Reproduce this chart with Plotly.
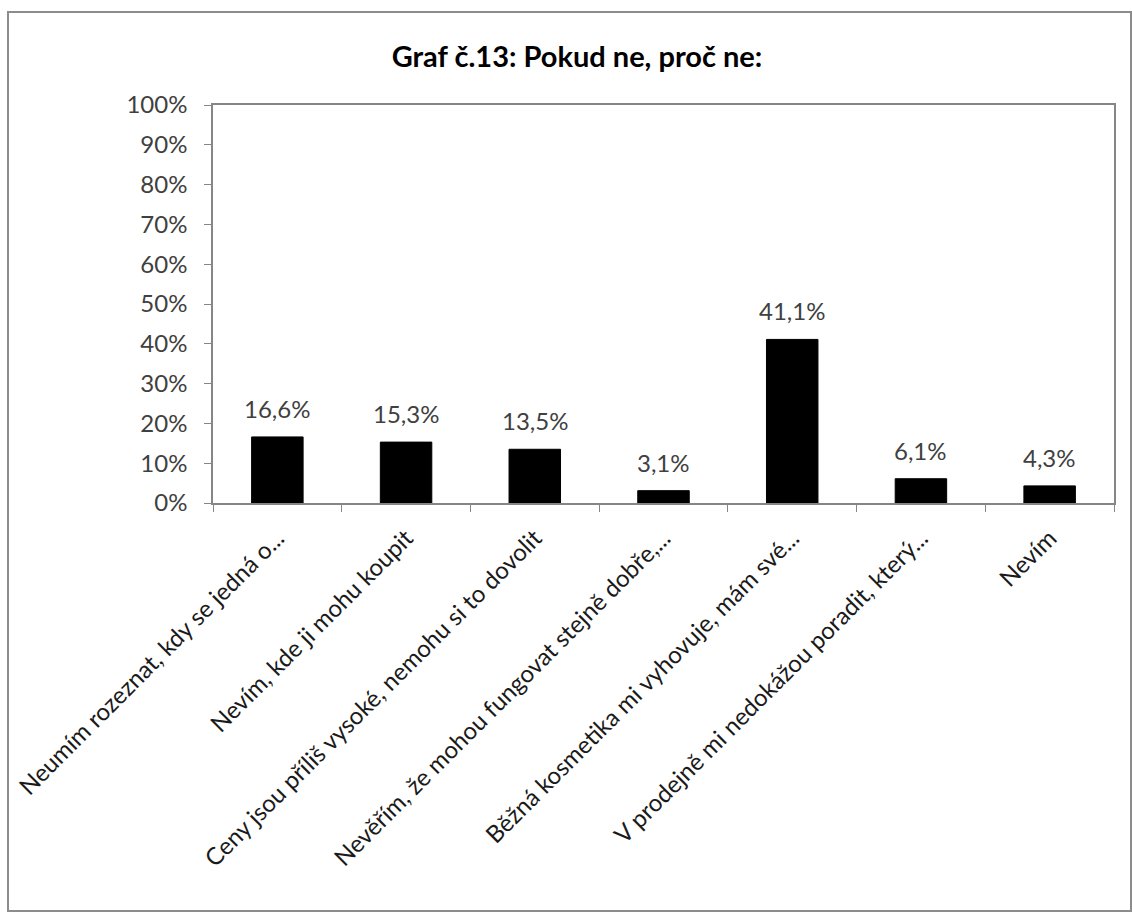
import plotly.graph_objects as go

# Survey answers: reasons for not buying (share of respondents)
categories = [
    "Neumím rozeznat, kdy se jedná o...",
    "Nevím, kde ji mohu koupit",
    "Ceny jsou příliš vysoké, nemohu si to dovolit",
    "Nevěřím, že mohou fungovat stejně dobře,...",
    "Běžná kosmetika mi vyhovuje, mám své...",
    "V prodejně mi nedokážou poradit, který...",
    "Nevím",
]
values = [16.6, 15.3, 13.5, 3.1, 41.1, 6.1, 4.3]
y_ticks = [0, 10, 20, 30, 40, 50, 60, 70, 80, 90, 100]
y_tick_labels = [f"{v}%" for v in y_ticks]
title_text = "Graf č.13: Pokud ne, proč ne:"

W, H = 1132, 912
L, R, T, B = 213, 1114, 105, 503  # plot area in pixels
FONT = "Lato"
AXIS_GREY = "#868686"
TEXT_GREY = "#404040"

fig = go.Figure()
fig.add_trace(go.Bar(
    x=categories,
    y=values,
    marker=dict(color="black", line=dict(color="black", width=1)),
    width=0.4,
    hoverinfo="skip",
))

# value labels above each bar
for c, v in zip(categories, values):
    fig.add_annotation(
        x=c, y=v, xref="x", yref="y",
        text=f"{v:.1f}".replace(".", ",") + "%",
        showarrow=False, yanchor="bottom", yshift=12,
        font=dict(family=FONT, size=24, color=TEXT_GREY),
    )

pw, ph = R - L, B - T
def px_x(p):
    return (p - L) / pw
def px_y(p):
    return (B - p) / ph

# outer chart frame
fig.add_shape(
    type="rect", xref="paper", yref="paper",
    x0=px_x(8), x1=px_x(1131), y0=px_y(911), y1=px_y(12),
    line=dict(color="#8c8c8c", width=2), fillcolor="rgba(0,0,0,0)",
    layer="below",
)

fig.update_layout(
    width=W, height=H,
    margin=dict(l=L, r=W - R, t=T, b=H - B, pad=0),
    paper_bgcolor="white", plot_bgcolor="white",
    showlegend=False,
    title=dict(
        text=f"<b>{title_text}</b>",
        x=577 / W, xanchor="center", xref="container",
        y=1 - 57 / H, yanchor="middle", yref="container",
        font=dict(family=FONT, size=29, color="black"),
    ),
    font=dict(family=FONT),
)
fig.update_xaxes(
    type="category",
    tickangle=-45,
    tickson="boundaries",
    ticks="outside", ticklen=7, tickcolor=AXIS_GREY,
    showline=True, linecolor=AXIS_GREY, linewidth=1.5, mirror=True,
    showgrid=False,
    tickfont=dict(family=FONT, size=24, color="#1a1a1a"),
    ticklabelstandoff=10,
)
fig.update_yaxes(
    range=[0, 100],
    tickvals=y_ticks, ticktext=y_tick_labels,
    ticks="outside", ticklen=7, tickcolor=AXIS_GREY,
    showline=True, linecolor=AXIS_GREY, linewidth=1.5, mirror=True,
    showgrid=False, zeroline=False,
    tickfont=dict(family=FONT, size=24, color=TEXT_GREY),
    ticklabelstandoff=12,
)

fig.write_html("out.html")
